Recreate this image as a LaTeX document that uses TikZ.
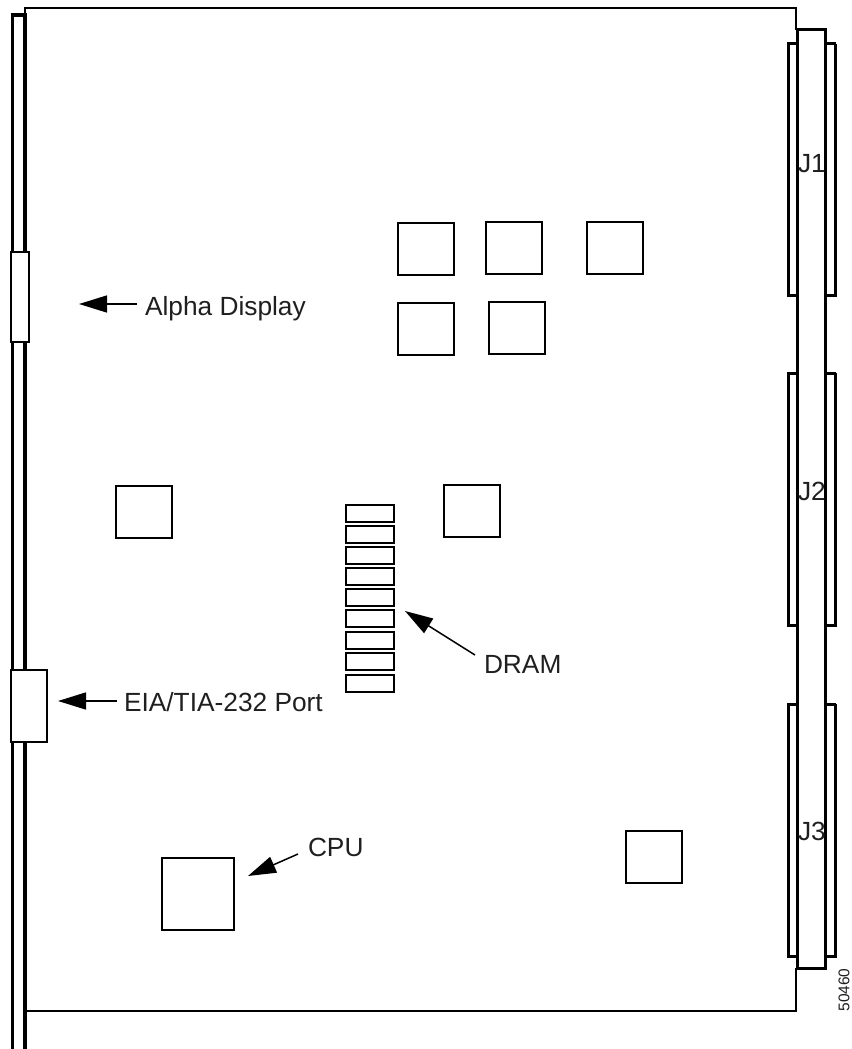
\documentclass[tikz,border=0pt]{standalone}
\usepackage{fontspec}
\setmainfont{Liberation Sans}
\usetikzlibrary{arrows.meta}
\tikzset{
  thick line/.style={line width=3.2pt,black},
  board/.style={line width=2pt,black},
  chip/.style={draw=black,line width=2pt,fill=white,minimum width=56pt,minimum height=52pt,inner sep=0,outer sep=0,anchor=north west},
  ramcell/.style={draw=black,line width=2pt,fill=white,minimum width=48pt,minimum height=17pt,inner sep=0,outer sep=0,anchor=north west},
  panel/.style={draw=black,line width=2pt,fill=white,inner sep=0,outer sep=0,anchor=north west},
  shell/.style={line width=3pt,black},
  lbl/.style={font=\fontsize{26.3}{30}\selectfont,text=black!88,inner sep=0,outer sep=0,anchor=base west},
  pointer/.style={line width=1.5pt,black,-{Triangle[length=28pt,width=17pt]}}
}
\begin{document}
\begin{tikzpicture}[x=1pt,y=-1pt]
\useasboundingbox (0,0) rectangle (851,1049);
% front panel rails
\draw[thick line] (12.5,1049) -- (12.5,15) -- (25,15) -- (25,1049);
% board outline
\draw[board] (25,15) -- (25,8) -- (796,8) -- (796,30);
\draw[board] (25,1011) -- (796,1011) -- (796,968);
% panel parts
\node[panel,minimum width=18pt,minimum height=90pt] (alpha) at (11,252) {};
\node[panel,minimum width=36pt,minimum height=72pt] (port) at (11,670) {};
% chips
\node[chip] (c1) at (398,223) {};
\node[chip] (c2) at (486,222) {};
\node[chip] (c3) at (587,222) {};
\node[chip] (c4) at (398,303) {};
\node[chip] (c5) at (489,302) {};
\node[chip] (c6) at (116,486) {};
\node[chip] (c7) at (444,485) {};
\node[chip] (c8) at (626,831) {};
\node[chip,minimum width=72pt,minimum height=72pt] (cpu) at (162,858) {};
% DRAM
\foreach \y [count=\i] in {504.5,525.5,546.5,568,589,610,632,653,674.5}
  \node[ramcell] (d\i) at (346,\y) {};
% connector shells
\foreach \t/\b in {44/295,373/625,704/956}{
  \draw[shell] (797,\t) -- (788,\t) -- (788,\b) -- (797,\b);
  \draw[shell] (825,\t) -- (836,\t);
  \draw[shell] (825,\b) -- (835,\b) -- (835,\t);
}
% connector body
\draw[shell] (797,968.5) -- (797,30) -- (825,30) -- (825,968.5) -- cycle;
% labels
\node[lbl] (lJ1) at (798,172) {J1};
\node[lbl] (lJ2) at (798,500) {J2};
\node[lbl] (lJ3) at (798,840) {J3};
\node[lbl] (lalpha) at (145,315) {Alpha Display};
\node[lbl] (lport) at (124,711) {EIA/TIA-232 Port};
\node[lbl] (ldram) at (484,673) {DRAM};
\node[lbl] (lcpu) at (308,856) {CPU};
\node[font=\fontsize{15.5}{18}\selectfont,text=black!88,rotate=90,inner sep=0] (code) at (844,990) {50460};
% pointers
\coordinate (talpha) at (79,304);
\coordinate (tport) at (58,701);
\coordinate (tdram) at (405,611);
\coordinate (tcpu) at (248,876);
\coordinate (salpha) at (137,304);
\coordinate (sport) at (117,701);
\coordinate (sdram) at (475,655);
\coordinate (scpu) at (298,854);
\draw[pointer] (salpha) -- (talpha);
\draw[pointer] (sport) -- (tport);
\draw[pointer] (sdram) -- (tdram);
\draw[pointer] (scpu) -- (tcpu);
\end{tikzpicture}
\end{document}
